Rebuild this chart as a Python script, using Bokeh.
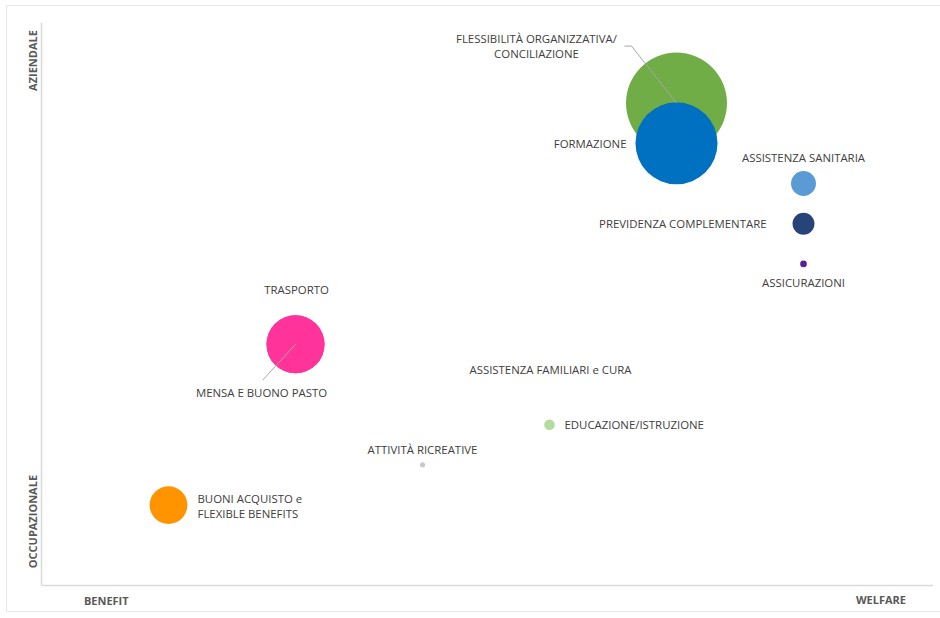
import numpy as np
from bokeh.plotting import figure
from bokeh.models import ColumnDataSource, Range1d
from bokeh.core.properties import value
from bokeh.embed import file_html
from bokeh.resources import INLINE

# ---------------- data ----------------
categories = [
    "FLESSIBILITÀ ORGANIZZATIVA/\nCONCILIAZIONE",
    "FORMAZIONE",
    "ASSISTENZA SANITARIA",
    "PREVIDENZA COMPLEMENTARE",
    "ASSICURAZIONI",
    "TRASPORTO",
    "MENSA E BUONO PASTO",
    "ASSISTENZA FAMILIARI e CURA",
    "EDUCAZIONE/ISTRUZIONE",
    "ATTIVITÀ RICREATIVE",
    "BUONI ACQUISTO e\nFLEXIBLE BENEFITS",
]
welfare_x = [5, 5, 6, 6, 6, 2, 2, 4, 4, 3, 1]            # BENEFIT -> WELFARE
aziendale_y = [12, 11, 10, 9, 8, 6, 6, 5, 4, 3, 2]       # OCCUPAZIONALE -> AZIENDALE
bubble_values = [100, 66, 6.1, 4.7, 0.43, 33, 33, 0, 1.1, 0.25, 14]
colors = ["#70AD47", "#0070C0", "#5B9BD5", "#264478", "#5B1E96", "#FF3399",
          "#FF3399", "#A9D18E", "#B4DCA0", "#C8C8C8", "#FF9400"]

axis_texts = ["BENEFIT", "WELFARE", "AZIENDALE", "OCCUPAZIONALE"]
axis_text_x = [0.51, 6.61, -0.07, -0.07]
axis_text_y = [-0.37, -0.35, 13.06, 1.59]

# ---------------- label styles (screen px) ----------------
label_dx = [-140, -50, 0, -37, 0, 1, -34, 1, 15, 0, 29]
label_dy = [-57, 0, -26, 0, 19, -55, 48, -15, 0, -15, 1]
label_align = ["center", "right", "center", "right", "center", "center",
               "center", "center", "left", "center", "left"]

X_MAX, Y_MAX = 7, 14
W, H = 936, 607
PX_X, PX_Y = 127.0, 40.2          # pixels per unit
ORIGIN_X, ORIGIN_Y = 35, 580      # figure px of the (0, 0) corner
R_MAX = 50.5

x_range = Range1d(-ORIGIN_X / PX_X, (W - ORIGIN_X) / PX_X)
y_range = Range1d(-(H - ORIGIN_Y) / PX_Y, ORIGIN_Y / PX_Y)

sizes = 2 * R_MAX * np.sqrt(np.array(bubble_values) / max(bubble_values))

src = ColumnDataSource(dict(
    x=welfare_x, y=aziendale_y, size=sizes, color=colors, text=categories,
    dx=label_dx, dy=label_dy, align=label_align,
))

p = figure(width=W, height=H, x_range=x_range, y_range=y_range,
           output_backend="svg", toolbar_location=None,
           min_border=0, x_axis_type=None, y_axis_type=None)
p.styles = {"margin-left": "6px", "margin-top": "5px"}
p.grid.visible = False
p.outline_line_color = "#e8e8e8"
p.outline_line_width = 1

# axes lines
p.segment(x0=[0, 0], y0=[0, 0], x1=[0, X_MAX + 0.02], y1=[Y_MAX, 0],
          line_color="#d9d9d9", line_width=1.5)

# leader lines (offsets from bubble centres, in screen px)
def leader(i, pts):
    xs = [welfare_x[i] + dx / PX_X for dx, dy in pts]
    ys = [aziendale_y[i] - dy / PX_Y for dx, dy in pts]
    p.line(xs, ys, line_color="#a6a6a6", line_width=1)

p.scatter("x", "y", size="size", fill_color="color", line_color=None, source=src)

leader(0, [(-52, -57), (-45, -57), (0, 0)])
leader(6, [(0, 0), (-33, 36)])

p.text("x", "y", text="text", x_offset="dx", y_offset="dy", text_align="align",
       text_baseline="middle", text_font=value("Open Sans"), text_font_size="11.4px",
       text_color="#404040", text_line_height=1.05, source=src)

# axis end labels
p.text(axis_text_x, axis_text_y, text=axis_texts, angle=[0, 0, np.pi / 2, np.pi / 2],
       text_align="center", text_baseline="middle", text_font=value("Open Sans"),
       text_font_size="11px", text_font_style="bold", text_color="#595959")

open("out.html", "w").write(file_html(p, INLINE))
